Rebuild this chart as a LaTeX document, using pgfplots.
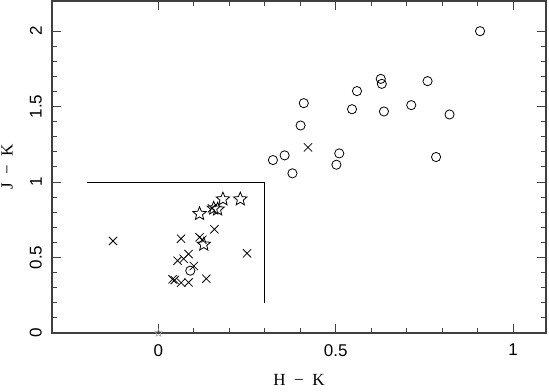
\documentclass[border=0pt]{standalone}
\usepackage{fontspec}
\setmainfont{Liberation Sans}
\newfontfamily\labelfont{Liberation Serif}
\usepackage{pgfplots}
\pgfplotsset{compat=1.18}

% outlined five-point star
\pgfdeclareplotmark{ostar}{%
  \pgfpathmoveto{\pgfpointpolar{90}{\pgfplotmarksize}}%
  \pgfpathlineto{\pgfpointpolar{126}{0.45\pgfplotmarksize}}%
  \pgfpathlineto{\pgfpointpolar{162}{\pgfplotmarksize}}%
  \pgfpathlineto{\pgfpointpolar{198}{0.45\pgfplotmarksize}}%
  \pgfpathlineto{\pgfpointpolar{234}{\pgfplotmarksize}}%
  \pgfpathlineto{\pgfpointpolar{270}{0.45\pgfplotmarksize}}%
  \pgfpathlineto{\pgfpointpolar{306}{\pgfplotmarksize}}%
  \pgfpathlineto{\pgfpointpolar{342}{0.45\pgfplotmarksize}}%
  \pgfpathlineto{\pgfpointpolar{18}{\pgfplotmarksize}}%
  \pgfpathlineto{\pgfpointpolar{54}{0.45\pgfplotmarksize}}%
  \pgfpathclose
  \pgfusepathqstroke
}

\begin{document}
\begin{tikzpicture}
\begin{axis}[
  scale only axis,
  width=494pt, height=332pt,
  xmin=-0.3, xmax=1.093,
  ymin=0, ymax=2.2,
  xtick={0,0.5,1}, ytick={0,0.5,1,1.5,2},
  minor x tick num=4, minor y tick num=4,
  tick align=inside,
  major tick length=9pt, minor tick length=5pt,
  axis line style={black!75, line width=1.2pt},
  every tick/.style={black!75, line width=1pt},
  tick label style={font=\fontsize{17}{17}\selectfont, /pgf/number format/assume math mode=true},
  x tick label style={inner sep=0pt},
  xticklabel shift=11pt,
  y tick label style={rotate=90, anchor=south, inner sep=0pt},
  yticklabel shift=10pt,
  xlabel={\labelfont H\hspace{0.5em}−\hspace{0.5em}K},
  ylabel={\labelfont J\hspace{0.5em}−\hspace{0.5em}K},
  label style={font=\fontsize{17}{17}\selectfont},
  xlabel style={at={(axis description cs:0.5,0)}, anchor=north, yshift=-41pt, inner sep=0pt},
  ylabel style={at={(axis description cs:-0.079,0.5)}, anchor=south, inner sep=0pt},
  clip=false,
]
% selection box
\addplot[black, line width=1pt, mark=none] coordinates {(-0.2,1) (0.3,1) (0.3,0.2)};

% crosses
\addplot[only marks, mark=x, mark size=5.8pt, line width=0.8pt, black] coordinates {
  (-0.128,0.61) (0.064,0.625) (0.116,0.634) (0.124,0.618) (0.158,0.687)
  (0.250,0.528) (0.085,0.523) (0.071,0.492) (0.054,0.479) (0.100,0.444)
  (0.040,0.356) (0.046,0.351) (0.064,0.333) (0.085,0.335) (0.135,0.360)
  (0.151,0.826) (0.422,1.230)
};

% circles
\addplot[only marks, mark=o, mark size=4.6pt, line width=0.8pt, black] coordinates {
  (0.090,0.413)
  (0.907,2.000) (0.627,1.684) (0.630,1.651) (0.759,1.669) (0.560,1.603)
  (0.410,1.523) (0.546,1.483) (0.636,1.468) (0.713,1.510) (0.821,1.448)
  (0.401,1.375) (0.323,1.146) (0.356,1.177) (0.378,1.058) (0.510,1.190)
  (0.502,1.115) (0.783,1.166)
};

% stars
\addplot[only marks, mark=ostar, mark size=7pt, line width=0.8pt, black] coordinates {
  (0.116,0.790) (0.156,0.826) (0.167,0.820) (0.182,0.887) (0.231,0.887)
  (0.128,0.587)
};

% faint star at the origin
\addplot[only marks, mark=ostar, mark size=4pt, line width=0.5pt, black!35] coordinates {(0,0)};
\end{axis}
\path ([xshift=-52pt,yshift=-58pt]current axis.south west) rectangle ([xshift=3pt,yshift=1pt]current axis.north east);
\end{tikzpicture}
\end{document}
